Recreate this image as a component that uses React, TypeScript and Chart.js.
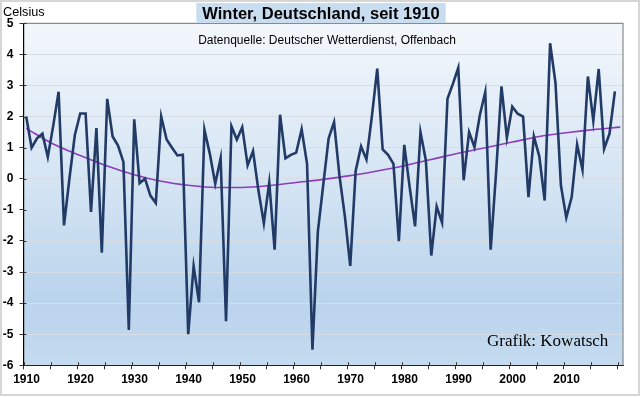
import React, { useEffect, useRef } from "react";
import { Chart, registerables } from "chart.js";
Chart.register(...registerables);

const years = [
  1910, 1911, 1912, 1913, 1914, 1915, 1916, 1917, 1918, 1919,
  1920, 1921, 1922, 1923, 1924, 1925, 1926, 1927, 1928, 1929,
  1930, 1931, 1932, 1933, 1934, 1935, 1936, 1937, 1938, 1939,
  1940, 1941, 1942, 1943, 1944, 1945, 1946, 1947, 1948, 1949,
  1950, 1951, 1952, 1953, 1954, 1955, 1956, 1957, 1958, 1959,
  1960, 1961, 1962, 1963, 1964, 1965, 1966, 1967, 1968, 1969,
  1970, 1971, 1972, 1973, 1974, 1975, 1976, 1977, 1978, 1979,
  1980, 1981, 1982, 1983, 1984, 1985, 1986, 1987, 1988, 1989,
  1990, 1991, 1992, 1993, 1994, 1995, 1996, 1997, 1998, 1999,
  2000, 2001, 2002, 2003, 2004, 2005, 2006, 2007, 2008, 2009,
  2010, 2011, 2012, 2013, 2014, 2015, 2016, 2017, 2018, 2019,
];

const winterTemps = [
  2.0, 1.0, 1.3, 1.45, 0.7, 1.7, 2.8, -1.5, 0.0, 1.4,
  2.1, 2.1, -1.07, 1.63, -2.38, 2.57, 1.36, 1.07, 0.54, -4.86,
  1.91, -0.14, 0.0, -0.54, -0.78, 2.0, 1.26, 1.0, 0.75, 0.77,
  -5.0, -2.81, -3.97, 1.58, 0.8, -0.16, 0.66, -4.58, 1.69, 1.26,
  1.66, 0.43, 0.89, -0.38, -1.43, -0.12, -2.28, 2.06, 0.66, 0.77,
  0.84, 1.59, 0.48, -5.5, -1.7, -0.2, 1.3, 1.82, 0.1, -1.2,
  -2.8, 0.25, 1.04, 0.62, 2.0, 3.54, 0.94, 0.77, 0.48, -2.01,
  1.09, -0.27, -1.53, 1.5, 0.59, -2.47, -0.89, -1.41, 2.57, 3.05,
  3.57, -0.05, 1.5, 1.02, 2.05, 2.79, -2.28, 0.2, 2.97, 1.32,
  2.32, 2.09, 2.0, -0.59, 1.36, 0.72, -0.7, 4.36, 3.08, -0.21,
  -1.25, -0.59, 1.1, 0.29, 3.29, 1.87, 3.53, 0.96, 1.45, 2.81,
];

// trend line (polynomial trend of the original)
const trendYears = [
  1910, 1915, 1920, 1925, 1930, 1935, 1940, 1945, 1950, 1955, 1960, 1965,
  1970, 1975, 1980, 1985, 1990, 1995, 2000, 2005, 2010, 2015, 2020,
];
const trendValues = [
  1.62, 1.12, 0.75, 0.41, 0.13, -0.08, -0.21, -0.28, -0.28, -0.22, -0.12, -0.02,
  0.1, 0.25, 0.42, 0.62, 0.82, 1.0, 1.18, 1.36, 1.48, 1.58, 1.66,
];

const yTickValues = [-6, -5, -4, -3, -2, -1, 0, 1, 2, 3, 4, 5];
const xTickBoundaries = [
  1909.5, 1914.5, 1919.5, 1924.5, 1929.5, 1934.5, 1939.5, 1944.5, 1949.5, 1954.5,
  1959.5, 1964.5, 1969.5, 1974.5, 1979.5, 1984.5, 1989.5, 1994.5, 1999.5, 2004.5,
  2009.5, 2014.5, 2019.5,
];
const xLabelYears = [1910, 1920, 1930, 1940, 1950, 1960, 1970, 1980, 1990, 2000, 2010];

const titleText = "Winter, Deutschland, seit 1910";
const subtitleText = "Datenquelle: Deutscher Wetterdienst, Offenbach";
const creditText = "Grafik: Kowatsch";
const unitText = "Celsius";

const SANS = "'Liberation Sans', Arial, sans-serif";
const SERIF = "'Liberation Serif', 'Times New Roman', serif";

const decorPlugin = {
  id: "decor",
  beforeDraw(chart: any) {
    const { ctx, chartArea: a, width, height } = chart;
    ctx.save();
    ctx.fillStyle = "#ffffff";
    ctx.fillRect(0, 0, width, height);
    ctx.strokeStyle = "#d6d6d6";
    ctx.lineWidth = 2;
    ctx.strokeRect(1, 1, width - 2, height - 3);
    const g = ctx.createLinearGradient(0, a.top, 0, a.bottom);
    g.addColorStop(0, "#f3f7fc");
    g.addColorStop(0.5, "#d2e3f3");
    g.addColorStop(0.8, "#bad4ec");
    g.addColorStop(1, "#c4daef");
    ctx.fillStyle = g;
    ctx.fillRect(a.left, a.top, a.right - a.left, a.bottom - a.top);
    ctx.restore();
  },
  afterDraw(chart: any) {
    const { ctx, chartArea: a, scales } = chart;
    ctx.save();
    // frame top / right
    ctx.strokeStyle = "#8a8a8a";
    ctx.lineWidth = 1.2;
    ctx.beginPath();
    ctx.moveTo(a.left, a.top);
    ctx.lineTo(a.right, a.top);
    ctx.lineTo(a.right, a.bottom);
    ctx.stroke();
    // inner part of cross ticks
    ctx.strokeStyle = "#333";
    ctx.lineWidth = 1;
    ctx.beginPath();
    for (const v of yTickValues) {
      const y = Math.round(scales.y.getPixelForValue(v)) + 0.5;
      ctx.moveTo(a.left, y);
      ctx.lineTo(a.left + 3, y);
    }
    for (const v of xTickBoundaries) {
      const x = Math.round(scales.x.getPixelForValue(v)) + 0.5;
      ctx.moveTo(x, a.bottom);
      ctx.lineTo(x, a.bottom - 3);
    }
    ctx.stroke();
    // title with box
    ctx.font = `bold 16.5px ${SANS}`;
    const tw = ctx.measureText(titleText).width;
    const cx = 321;
    ctx.fillStyle = "#c9ddf1";
    ctx.fillRect(cx - tw / 2 - 6, 3, tw + 12, 20);
    ctx.fillStyle = "#000";
    ctx.textAlign = "center";
    ctx.textBaseline = "middle";
    ctx.fillText(titleText, cx, 14);
    // subtitle
    ctx.font = `12px ${SANS}`;
    ctx.fillText(subtitleText, 327, 40.5);
    // unit
    ctx.textAlign = "left";
    ctx.font = `12.7px ${SANS}`;
    ctx.fillText(unitText, 3, 12);
    // credit
    ctx.font = `17px ${SERIF}`;
    ctx.fillText(creditText, 487, 342);
    ctx.restore();
  },
};

export default function App() {
  const ref = useRef<HTMLCanvasElement | null>(null);
  useEffect(() => {
    if (!ref.current) return;
    const chart = new Chart(ref.current, {
      type: "line",
      data: {
        datasets: [
          {
            label: "Winter",
            data: years.map((yr, i) => ({ x: yr, y: winterTemps[i] })),
            borderColor: "#223a66",
            borderWidth: 2.6,
            pointRadius: 0,
            tension: 0,
            fill: false,
          },
          {
            label: "Trend",
            data: trendYears.map((yr, i) => ({ x: yr, y: trendValues[i] })),
            borderColor: "#8e3cbe",
            borderWidth: 1.6,
            pointRadius: 0,
            cubicInterpolationMode: "monotone",
            fill: false,
          },
        ],
      },
      options: {
        responsive: false,
        animation: false,
        layout: { padding: { top: 23.3, right: 17, left: 0, bottom: 0 } },
        plugins: {
          legend: { display: false },
          tooltip: { enabled: false },
          title: { display: false },
        },
        scales: {
          x: {
            type: "linear",
            min: 1909.5,
            max: 2020.5,
            afterBuildTicks: (scale: any) => {
              scale.ticks = xTickBoundaries.map((v) => ({ value: v }));
            },
            afterFit: (scale: any) => {
              scale.height = 31.7;
            },
            ticks: {
              autoSkip: false,
              maxRotation: 0,
              labelOffset: 3,
              padding: 3,
              color: "#000",
              font: { family: SANS, size: 12, weight: "bold" },
              callback: (v: any) => {
                const yr = Number(v) + 0.5;
                return xLabelYears.includes(yr) ? String(yr) : "";
              },
            },
            grid: {
              display: true,
              drawOnChartArea: false,
              drawTicks: true,
              tickLength: 4,
              tickColor: "#333",
            },
            border: { display: true, color: "#222", width: 1 },
          },
          y: {
            min: -6,
            max: 5,
            afterBuildTicks: (scale: any) => {
              scale.ticks = yTickValues.map((v) => ({ value: v }));
            },
            afterFit: (scale: any) => {
              scale.width = 23.5;
            },
            ticks: {
              color: "#000",
              padding: 6,
              font: { family: SANS, size: 12, weight: "bold" },
              callback: (v: any) => String(v),
            },
            grid: {
              color: "#d9dde3",
              lineWidth: 1,
              tickLength: 4,
              tickColor: "#333",
            },
            border: { display: true, color: "#000", width: 1.2 },
          },
        },
      },
      plugins: [decorPlugin],
    } as any);
    return () => chart.destroy();
  }, []);
  return (
    <div style={{ position: "absolute", left: 0, top: 0, width: 640, height: 397 }}>
      <canvas ref={ref} width={640} height={397} style={{ width: 640, height: 397 }} />
    </div>
  );
}
